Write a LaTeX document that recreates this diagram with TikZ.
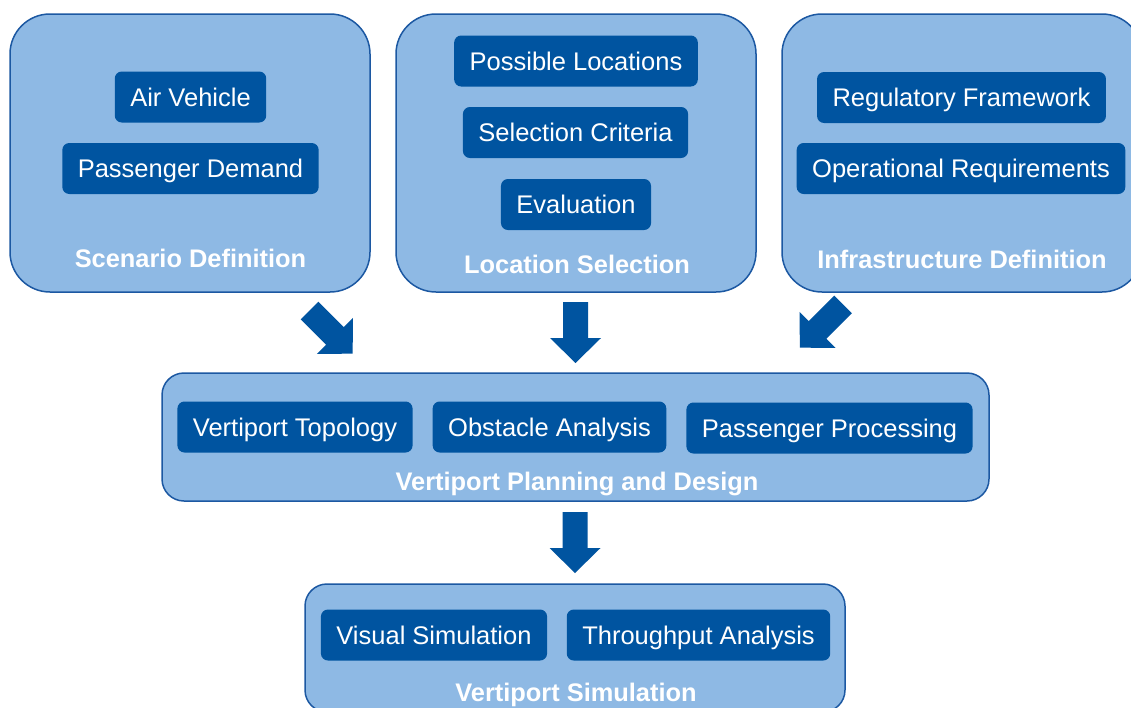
\documentclass[tikz,border=0pt]{standalone}
\usepackage{fontspec}
\setmainfont{Liberation Sans}
\definecolor{lightfill}{RGB}{142,185,228}
\definecolor{bordercol}{RGB}{28,88,162}
\definecolor{darkbox}{RGB}{0,84,160}
\begin{document}
\begin{tikzpicture}[x=1pt,y=-1pt,
  group/.style={draw=bordercol, line width=1.5pt, fill=lightfill, rounded corners=#1, inner sep=0pt},
  item/.style={fill=darkbox, text=white, rounded corners=7pt, font=\fontsize{25.5}{30}\selectfont,
    text height=18.3pt, text depth=0pt, minimum height=51pt, inner xsep=15.5pt, inner ysep=0pt},
  grouptitle/.style={text=white, font=\fontsize{25.4}{30}\selectfont\bfseries,
    text height=18.2pt, text depth=0pt, inner sep=0pt},
  blockarrow/.pic={\fill[darkbox] (0,-12.5) -- (36,-12.5) -- (36,-25.5) -- (61,0) -- (36,25.5) -- (36,12.5) -- (0,12.5) -- cycle;}
]
\useasboundingbox (0,0) rectangle (1131,707);
\fill[white] (0,0) rectangle (1131,707);

% top groups
\node[group=40pt, minimum width=360pt, minimum height=278pt] (scen) at (190,153) {};
\node[group=40pt, minimum width=360pt, minimum height=278pt] (loc) at (576,153) {};
\node[group=40pt, minimum width=360pt, minimum height=278pt] (infra) at (962,153) {};
% middle group
\node[group=22pt, minimum width=827pt, minimum height=128pt] (plan) at (575.5,437) {};
% bottom group
\node[group=22pt, minimum width=540pt, minimum height=128pt] (sim) at (575,648) {};

% items
\node[item] (air) at (190.5,97) {Air Vehicle};
\node[item] (dem) at (190.5,168.5) {Passenger Demand};
\node[grouptitle] (scent) at (190.5,258.5) {Scenario Definition};

\node[item] (poss) at (576,61) {Possible Locations};
\node[item] (crit) at (575.5,132.5) {Selection Criteria};
\node[item] (eval) at (576,204.5) {Evaluation};
\node[grouptitle] (loct) at (577,264) {Location Selection};

\node[item] (reg) at (961.5,97.5) {Regulatory Framework};
\node[item] (ops) at (961,168.5) {Operational Requirements};
\node[grouptitle] (infrat) at (962,259) {Infrastructure Definition};

\node[item] (topo) at (295,427) {Vertiport Topology};
\node[item] (obst) at (549.5,427) {Obstacle Analysis};
\node[item] (pax) at (829.5,428) {Passenger Processing};
\node[grouptitle] (plant) at (577,481.5) {Vertiport Planning and Design};

\node[item] (vis) at (434,635) {Visual Simulation};
\node[item] (thr) at (698.5,635) {Throughput Analysis};
\node[grouptitle] (simt) at (576,692) {Vertiport Simulation};

% block arrows
\coordinate (a1) at (309.5,310.5);
\coordinate (a2) at (575.5,302);
\coordinate (a3) at (843,304.5);
\coordinate (a4) at (575,512);
\pic[rotate=-45] at (a1) {blockarrow};
\pic[rotate=-90] at (a2) {blockarrow};
\pic[rotate=-135] at (a3) {blockarrow};
\pic[rotate=-90] at (a4) {blockarrow};
\end{tikzpicture}
\end{document}
